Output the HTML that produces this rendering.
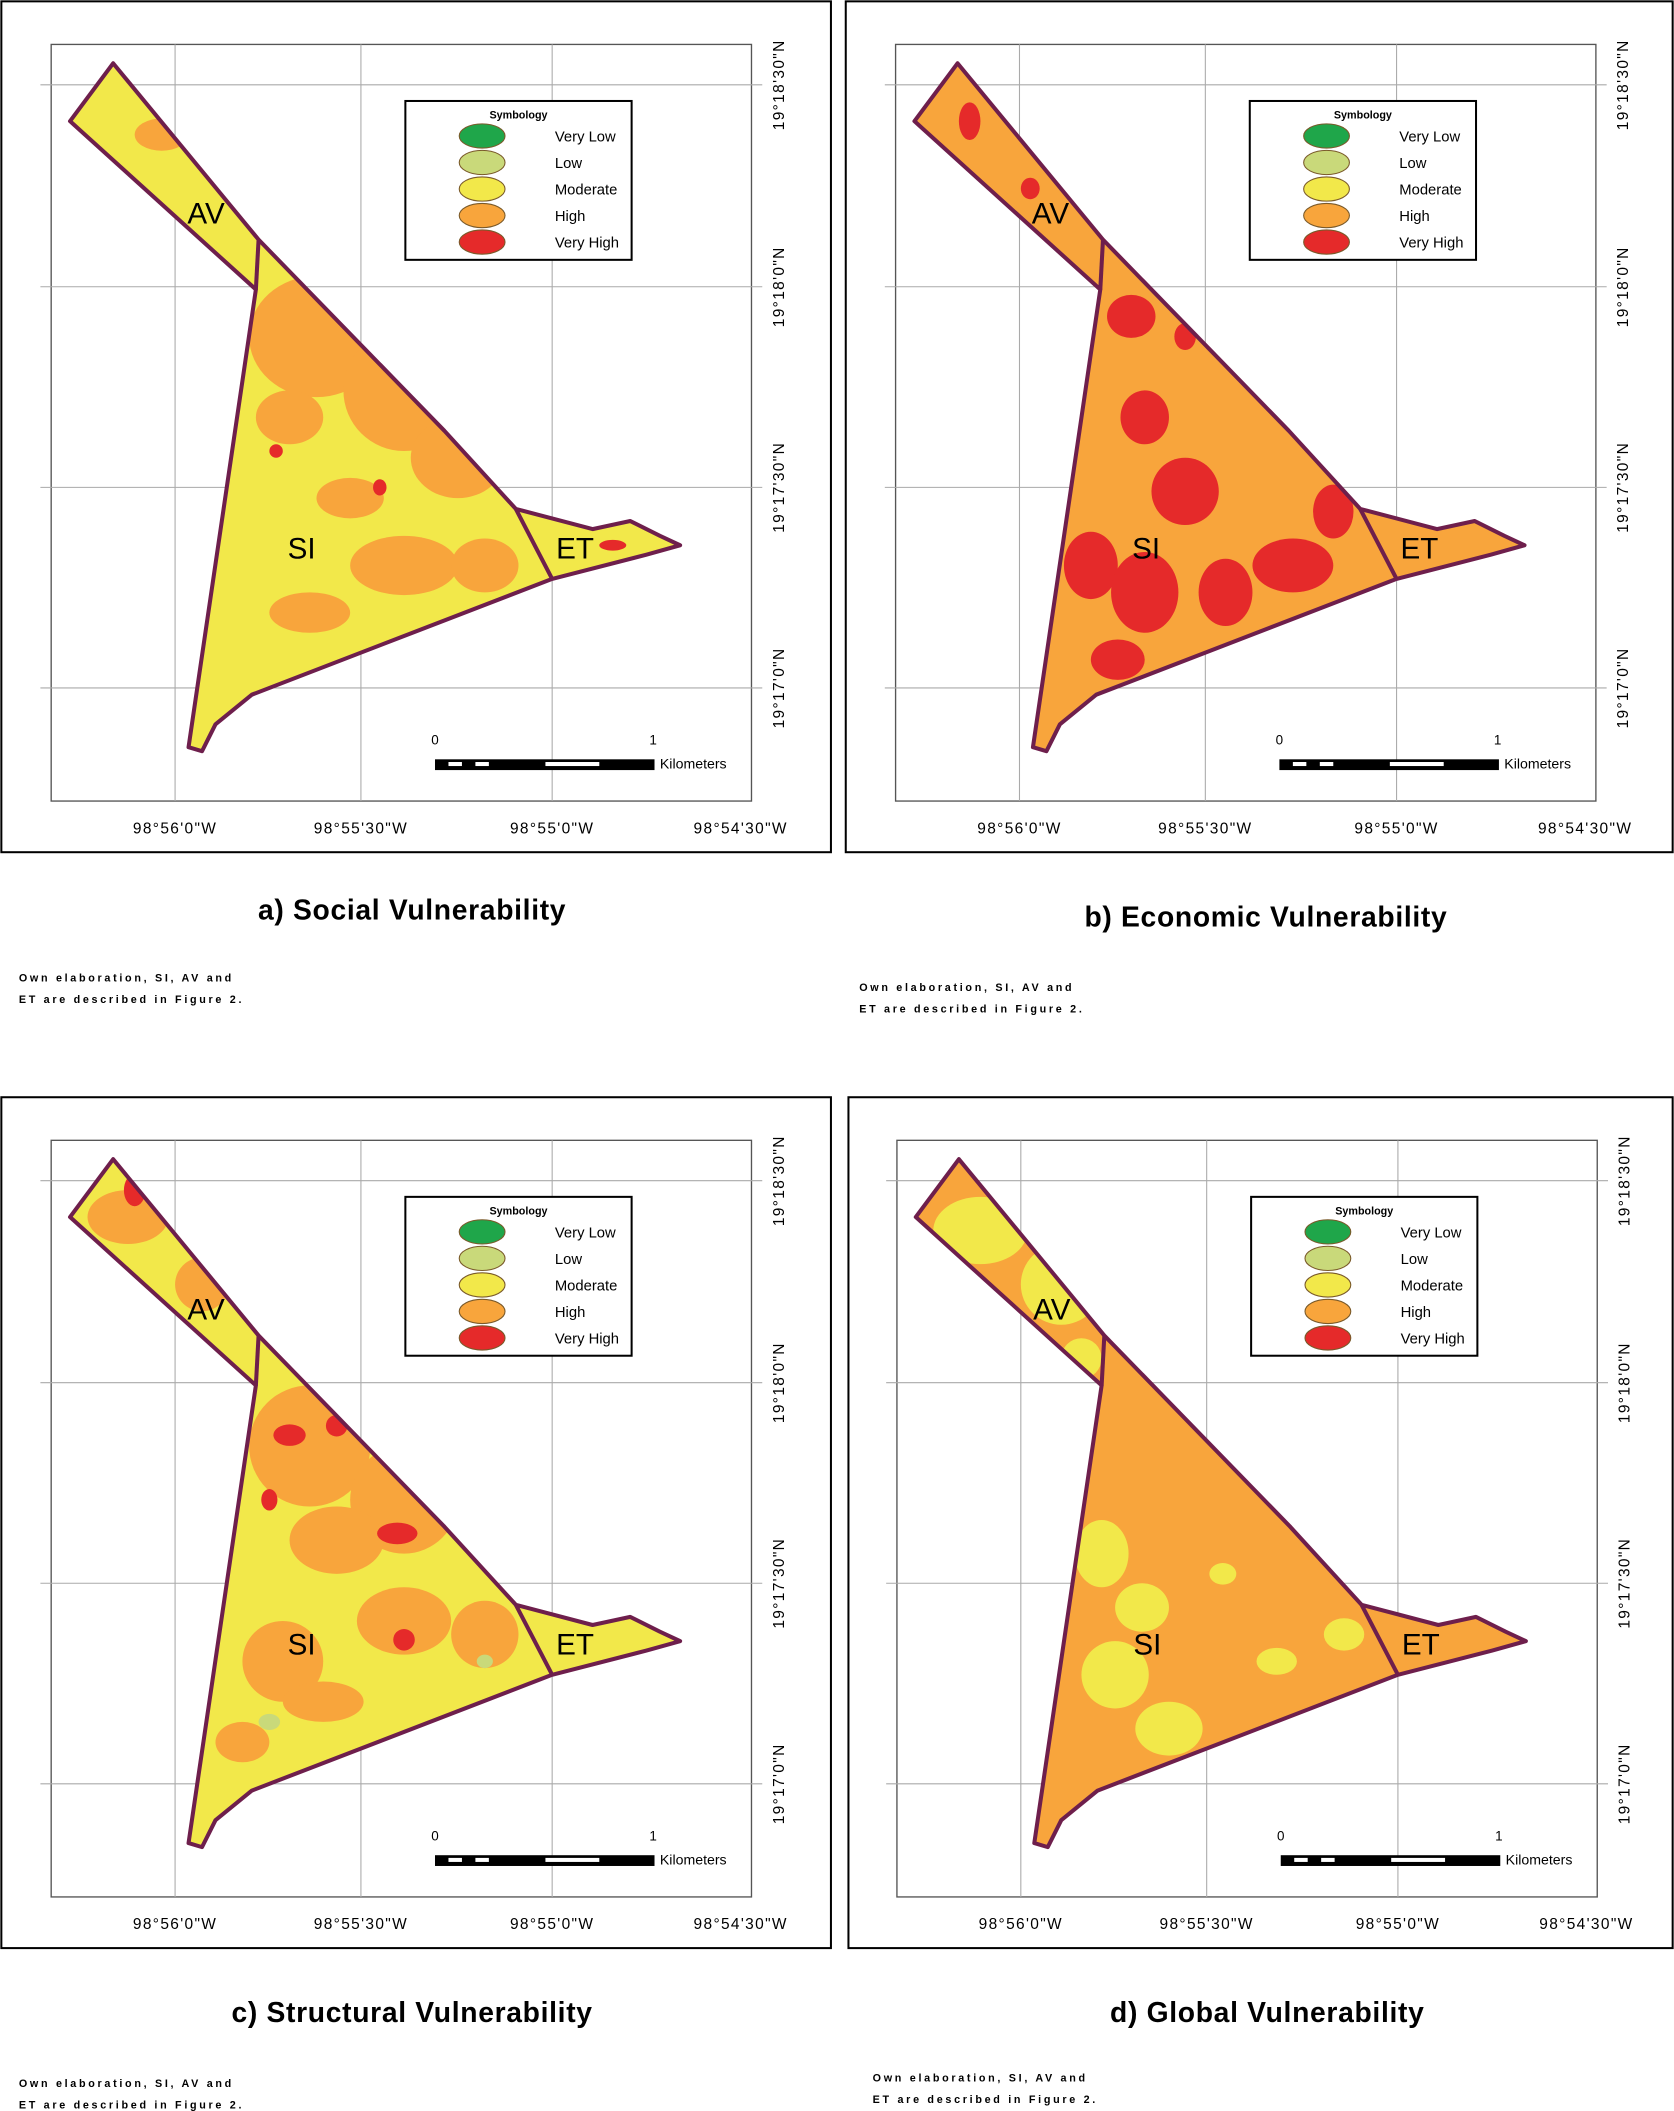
<!DOCTYPE html>
<html><head><meta charset="utf-8"><style>
html,body{margin:0;padding:0;background:#fff;}
svg{display:block;}
text{font-family:"Liberation Sans",sans-serif;}
</style></head><body>
<svg id="fig" width="1674" height="2111" viewBox="0 0 1243 1568" preserveAspectRatio="none" xmlns="http://www.w3.org/2000/svg"></svg>
<script>
const legendLabels=["Very Low","Low","Moderate","High","Very High"];
const legendColors=["#1fa64a","#c9d97a","#f2e84a","#f8a53c","#e52a2a"];
const lonLabels=["98°56'0\"W","98°55'30\"W","98°55'0\"W","98°54'30\"W"];
const lonX=[130,268,410,550];
const latLabels=["19°18'30\"N","19°18'0\"N","19°17'30\"N","19°17'0\"N"];
const latY=[63,213,362,511];
const titles=["a) Social Vulnerability","b) Economic Vulnerability","c) Structural Vulnerability","d) Global Vulnerability"];
const offsets=[[0,0,1,617],[627,0,628,1242],[0,814,1,617],[628,814,630,1242]];
const titleY=[683,688,1502,1502];
const noteXY=[[14,726],[638,733],[14,1547],[648,1543]];
const baseFill=["#f2e84a","#f8a53c","#f2e84a","#f8a53c"];
// blobs relative to panel: [cx,cy,rx,ry,colorIndex]
const blobs=[
 [[235,250,50,45,3],[300,290,45,45,3],[340,340,35,30,3],[215,310,25,20,3],[260,370,25,15,3],[300,420,40,22,3],[230,455,30,15,3],[360,420,25,20,3],[120,100,20,12,3],[205,335,5,5,4],[282,362,5,6,4],[455,405,10,4,4]],
 [[720,90,8,14,4],[840,235,18,16,4],[880,250,8,10,4],[850,310,18,20,4],[880,365,25,25,4],[990,380,15,20,4],[810,420,20,25,4],[850,440,25,30,4],[910,440,20,25,4],[960,420,30,20,4],[830,490,20,15,4],[765,140,7,8,4]],
 [[95,90,30,20,3],[150,140,20,20,3],[230,260,45,45,3],[300,300,40,40,3],[250,330,35,25,3],[210,420,30,30,3],[300,390,35,25,3],[360,400,25,25,3],[240,450,30,15,3],[180,480,20,15,3],[215,252,12,8,4],[250,245,8,8,4],[295,325,15,8,4],[300,404,8,8,4],[200,300,6,8,4],[100,70,8,12,4],[360,420,6,5,1],[200,465,8,6,1]],
 [[100,100,35,25,2],[160,140,30,30,2],[175,195,15,15,2],[190,340,20,25,2],[200,430,25,25,2],[220,380,20,18,2],[240,470,25,20,2],[320,420,15,10,2],[370,400,15,12,2],[280,355,10,8,2]]
];
const outline=[[84,47],[192,178],[330,320],[383,378],[440,393],[468,387],[490,398],[505,405],[480,412],[410,430],[187,516],[160,538],[150,558],[140,555],[190,215],[52,90]];
const NS="http://www.w3.org/2000/svg";
const svg=document.getElementById('fig');
function el(tag,attrs,parent){const e=document.createElementNS(NS,tag);for(const k in attrs)e.setAttribute(k,attrs[k]);(parent||svg).appendChild(e);return e;}
offsets.forEach((o,i)=>{
 const dx=o[0],dy=o[1];
 const g=el('g',{});
 
 
 const fr=el('rect',{x:o[2],y:dy+1,width:o[3]-o[2],height:632,fill:'#fff',stroke:'#000','stroke-width':1.5},g);
 
 const inner=el('rect',{x:dx+38,y:dy+33,width:520,height:562,fill:'none',stroke:'#555','stroke-width':1},g);
 
 lonX.forEach((x,j)=>{
  if(j<3){const l=el('line',{x1:dx+x,y1:dy+33,x2:dx+x,y2:dy+595,stroke:'#aaa','stroke-width':0.8},g);}
  const t=el('text',{x:dx+x,y:dy+619,'font-size':11.5,'text-anchor':'middle','letter-spacing':1},g);t.textContent=lonLabels[j];
  
 });
 latY.forEach((y,j)=>{
  const l=el('line',{x1:dx+30,y1:dy+y,x2:dx+566,y2:dy+y,stroke:'#aaa','stroke-width':0.8},g);
  const t=el('text',{x:0,y:0,'font-size':11.5,'text-anchor':'middle','letter-spacing':1,transform:`translate(${dx+582},${dy+y}) rotate(-90)`},g);t.textContent=latLabels[j];
  
 });
 const pts=outline.map(p=>(p[0]+dx)+','+(p[1]+dy)).join(' ');
 const cp=el('clipPath',{id:'clip'+i},g);el('polygon',{points:pts},cp);
 const poly=el('polygon',{points:pts,fill:baseFill[i]},g);
 
 const bg=el('g',{'clip-path':`url(#clip${i})`},g);
 blobs[i].forEach(b=>{
  const bx=(i===1)?b[0]:b[0]+dx;
  const e=el('ellipse',{cx:bx,cy:b[1]+dy,rx:b[2],ry:b[3],fill:legendColors[b[4]]},bg);
  
 });
 const ol=el('polygon',{points:pts,fill:'none',stroke:'#6e1f4c','stroke-width':3,'stroke-linejoin':'round'},g);
 
 el('polyline',{points:`${dx+192},${dy+178} ${dx+190},${dy+215}`,stroke:'#6e1f4c','stroke-width':3,fill:'none'},g);
 el('polyline',{points:`${dx+383},${dy+378} ${dx+410},${dy+430}`,stroke:'#6e1f4c','stroke-width':3,fill:'none'},g);
 [["AV",153,166],["SI",224,415],["ET",427,415]].forEach(a=>{const t=el('text',{x:dx+a[1],y:dy+a[2],'font-size':22,'text-anchor':'middle'},g);t.textContent=a[0];});
 const lx=dx+301,ly=dy+75;
 const lg=el('g',{},g);
 el('rect',{x:lx,y:ly,width:168,height:118,fill:'#fff',stroke:'#000','stroke-width':1.5},lg);
 const st=el('text',{x:lx+84,y:ly+13,'font-size':8,'font-weight':'bold','text-anchor':'middle'},lg);st.textContent='Symbology';
 legendLabels.forEach((lab,j)=>{
  const e=el('ellipse',{cx:lx+57,cy:ly+26+j*19.7,rx:17,ry:9,fill:legendColors[j],stroke:'#7a5a2a','stroke-width':0.8},lg);
  
  const t=el('text',{x:lx+111,y:ly+30+j*19.7,'font-size':11},lg);t.textContent=lab;
  
 });
 const sb=el('g',{},g);
 const sx=dx+323,sy=dy+564;
 el('rect',{x:sx,y:sy,width:163,height:8,fill:'#000'},sb);
 [[10,10],[30,10],[82,40]].forEach(r=>el('rect',{x:sx+r[0],y:sy+2,width:r[1],height:3,fill:'#fff'},sb));
 const t0=el('text',{x:sx,y:sy-11,'font-size':10,'text-anchor':'middle'},sb);t0.textContent='0';
 const t1=el('text',{x:sx+162,y:sy-11,'font-size':10,'text-anchor':'middle'},sb);t1.textContent='1';
 const tk=el('text',{x:sx+167,y:sy+7,'font-size':10.5},sb);tk.textContent='Kilometers';
 const tt=el('text',{x:i%2?dx+313:306,y:titleY[i],'font-size':21,'font-weight':'bold','text-anchor':'middle','letter-spacing':0.5},svg);
 tt.textContent=titles[i];
 const n=noteXY[i];
 ['Own elaboration, SI, AV and','ET are described in Figure 2.'].forEach((s,k)=>{const t=el('text',{x:n[0],y:n[1]+k*16+3,'font-size':8,'font-weight':'bold','letter-spacing':2},svg);t.textContent=s;});
});
</script>
</body></html>
